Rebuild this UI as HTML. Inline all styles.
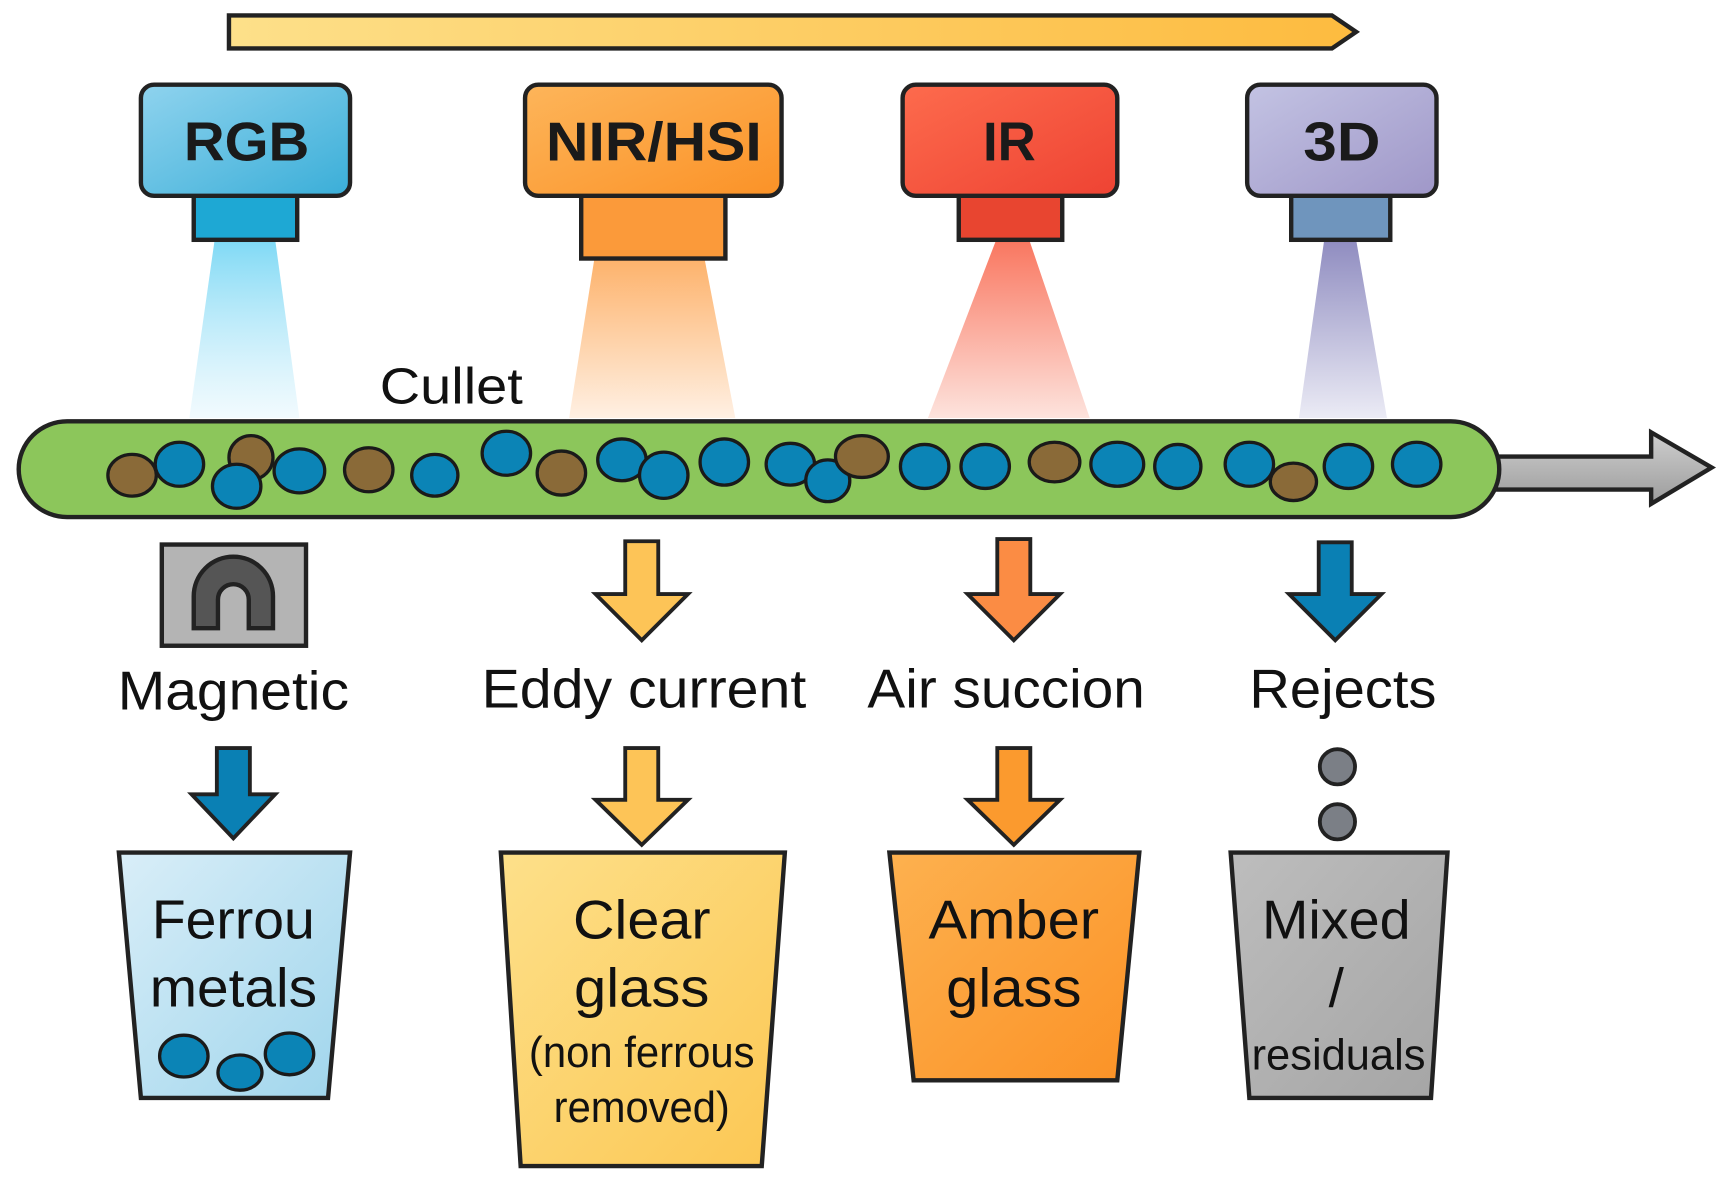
<!DOCTYPE html>
<html><head><meta charset="utf-8"><style>html,body{margin:0;padding:0;background:#fff;}svg{display:block}</style></head>
<body>
<svg width="1726" height="1187" viewBox="0 0 1568 1079" preserveAspectRatio="none" xmlns="http://www.w3.org/2000/svg" font-family="Liberation Sans, sans-serif">
<defs>
<linearGradient id="top" x1="0" x2="1"><stop offset="0" stop-color="#fde08a"/><stop offset="1" stop-color="#fdbb3f"/></linearGradient>
<linearGradient id="rgb" x1="0" x2="1" y1="0" y2="1"><stop offset="0" stop-color="#8fd3ee"/><stop offset="1" stop-color="#3aaed8"/></linearGradient>
<linearGradient id="nir" x1="0" x2="1" y1="0" y2="1"><stop offset="0" stop-color="#fdb55a"/><stop offset="1" stop-color="#fb9227"/></linearGradient>
<linearGradient id="ir" x1="0" x2="1" y1="0" y2="1"><stop offset="0" stop-color="#fd6b4d"/><stop offset="1" stop-color="#ee4333"/></linearGradient>
<linearGradient id="d3" x1="0" x2="1" y1="0" y2="1"><stop offset="0" stop-color="#c3c3e3"/><stop offset="1" stop-color="#9f97c8"/></linearGradient>
<linearGradient id="bRGB" x1="0" y1="0" x2="0" y2="1"><stop offset="0" stop-color="#7fd9f5"/><stop offset="1" stop-color="#e8f7fd" stop-opacity="0.6"/></linearGradient>
<linearGradient id="bNIR" x1="0" y1="0" x2="0" y2="1"><stop offset="0" stop-color="#fdb26b"/><stop offset="1" stop-color="#fff0e3"/></linearGradient>
<linearGradient id="bIR" x1="0" y1="0" x2="0" y2="1"><stop offset="0" stop-color="#f9765f"/><stop offset="1" stop-color="#fde3dd"/></linearGradient>
<linearGradient id="b3D" x1="0" y1="0" x2="0" y2="1"><stop offset="0" stop-color="#8f8cc0"/><stop offset="1" stop-color="#ebebf5"/></linearGradient>
<linearGradient id="ferr" x1="0" x2="1" y1="0" y2="1"><stop offset="0" stop-color="#d9eef8"/><stop offset="1" stop-color="#9fd5ec"/></linearGradient>
<linearGradient id="clr" x1="0" x2="1" y1="0" y2="1"><stop offset="0" stop-color="#fde08a"/><stop offset="1" stop-color="#fcc753"/></linearGradient>
<linearGradient id="amb" x1="0" x2="1" y1="0" y2="1"><stop offset="0" stop-color="#fdb14f"/><stop offset="1" stop-color="#fb9226"/></linearGradient>
<linearGradient id="mix" x1="0" x2="1" y1="0" y2="1"><stop offset="0" stop-color="#bdbdbd"/><stop offset="1" stop-color="#a5a5a5"/></linearGradient>
<linearGradient id="gray" x1="0" y1="0" x2="0" y2="1"><stop offset="0" stop-color="#cfcfcf"/><stop offset="1" stop-color="#9c9c9c"/></linearGradient>
</defs>

<polygon points="208,14 1210,14 1232,29 1210,44 208,44" fill="url(#top)" stroke="#222" stroke-width="4"/>

<polygon points="195,218 250,218 272,380 172,380" fill="url(#bRGB)"/>
<polygon points="540,235 640,235 668,380 517,380" fill="url(#bNIR)"/>
<polygon points="905,218 935,218 990,380 843,380" fill="url(#bIR)"/>
<polygon points="1203,218 1232,218 1260,380 1180,380" fill="url(#b3D)"/>

<g stroke="#222" stroke-width="4">
<rect x="176" y="176" width="94" height="42" fill="#1ea8d4"/>
<rect x="128" y="77" width="190" height="101" rx="12" fill="url(#rgb)"/>
<rect x="528" y="176" width="131" height="59" fill="#fb9a3a"/>
<rect x="477" y="77" width="233" height="101" rx="12" fill="url(#nir)"/>
<rect x="871" y="176" width="94" height="42" fill="#e84530"/>
<rect x="820" y="77" width="195" height="101" rx="12" fill="url(#ir)"/>
<rect x="1173" y="176" width="90" height="42" fill="#6f95bd"/>
<rect x="1133" y="77" width="172" height="101" rx="12" fill="url(#d3)"/>
</g>
<g font-weight="bold" font-size="50" fill="#1a1a1a" text-anchor="middle">
<text x="224" y="146" textLength="114" lengthAdjust="spacingAndGlyphs">RGB</text>
<text x="594" y="146" textLength="196" lengthAdjust="spacingAndGlyphs">NIR/HSI</text>
<text x="917" y="146" textLength="48" lengthAdjust="spacingAndGlyphs">IR</text>
<text x="1219" y="146" textLength="70" lengthAdjust="spacingAndGlyphs">3D</text>
</g>
<text x="410" y="367" font-size="46" text-anchor="middle" fill="#111" textLength="130" lengthAdjust="spacingAndGlyphs">Cullet</text>

<polygon points="1355,415 1500,415 1500,393 1555,425 1500,458 1500,445 1355,445" fill="url(#gray)" stroke="#222" stroke-width="4"/>
<rect x="17" y="383" width="1345" height="87" rx="44" fill="#8cc65b" stroke="#222" stroke-width="4"/>
<g stroke="#1a1a1a" stroke-width="3">
<ellipse cx="120" cy="432" rx="22" ry="19" fill="#8a6a38"/>
<ellipse cx="163" cy="422" rx="22" ry="20" fill="#0b84b6"/>
<ellipse cx="228" cy="416" rx="20" ry="20" fill="#8a6a38"/>
<ellipse cx="215" cy="442" rx="22" ry="20" fill="#0b84b6"/>
<ellipse cx="272" cy="428" rx="23" ry="20" fill="#0b84b6"/>
<ellipse cx="335" cy="427" rx="22" ry="20" fill="#8a6a38"/>
<ellipse cx="395" cy="432" rx="21" ry="19" fill="#0b84b6"/>
<ellipse cx="460" cy="412" rx="22" ry="20" fill="#0b84b6"/>
<ellipse cx="510" cy="430" rx="22" ry="20" fill="#8a6a38"/>
<ellipse cx="565" cy="418" rx="22" ry="19" fill="#0b84b6"/>
<ellipse cx="603" cy="432" rx="22" ry="21" fill="#0b84b6"/>
<ellipse cx="658" cy="420" rx="22" ry="21" fill="#0b84b6"/>
<ellipse cx="718" cy="422" rx="22" ry="19" fill="#0b84b6"/>
<ellipse cx="752" cy="437" rx="20" ry="19" fill="#0b84b6"/>
<ellipse cx="783" cy="415" rx="24" ry="19" fill="#8a6a38"/>
<ellipse cx="840" cy="424" rx="22" ry="20" fill="#0b84b6"/>
<ellipse cx="895" cy="424" rx="22" ry="20" fill="#0b84b6"/>
<ellipse cx="958" cy="420" rx="23" ry="18" fill="#8a6a38"/>
<ellipse cx="1015" cy="422" rx="24" ry="20" fill="#0b84b6"/>
<ellipse cx="1070" cy="424" rx="21" ry="20" fill="#0b84b6"/>
<ellipse cx="1135" cy="422" rx="22" ry="20" fill="#0b84b6"/>
<ellipse cx="1175" cy="438" rx="21" ry="17" fill="#8a6a38"/>
<ellipse cx="1225" cy="424" rx="22" ry="20" fill="#0b84b6"/>
<ellipse cx="1287" cy="422" rx="22" ry="20" fill="#0b84b6"/>
</g>

<rect x="147" y="495" width="131" height="92" fill="#b4b4b4" stroke="#222" stroke-width="4"/>
<path d="M176,571 L176,542 A36,36 0 0 1 248,542 L248,571 L226,571 L226,545 A14,14 0 0 0 198,545 L198,571 Z" fill="#555" stroke="#222" stroke-width="4"/>

<g stroke="#222" stroke-width="3.5">
<polygon points="568,492 598,492 598,540 625,540 583,582 541,540 568,540" fill="#fdc457"/>
<polygon points="906,490 936,490 936,540 963,540 921,582 879,540 906,540" fill="#fb8c44"/>
<polygon points="1198,493 1228,493 1228,540 1255,540 1213,582 1171,540 1198,540" fill="#0a80b4"/>
<polygon points="197,680 227,680 227,722 250,722 212,762 174,722 197,722" fill="#0a80b4"/>
<polygon points="568,680 598,680 598,727 625,727 583,768 541,727 568,727" fill="#fdc457"/>
<polygon points="906,680 936,680 936,727 963,727 921,768 879,727 906,727" fill="#fb9a2e"/>
<circle cx="1215" cy="697" r="16" fill="#7b7f86"/>
<circle cx="1215" cy="747" r="16" fill="#7b7f86"/>
</g>

<g font-size="50" fill="#111" text-anchor="middle" lengthAdjust="spacingAndGlyphs">
<text x="212" y="645" textLength="210" lengthAdjust="spacingAndGlyphs">Magnetic</text>
<text x="585" y="643" textLength="295" lengthAdjust="spacingAndGlyphs">Eddy current</text>
<text x="914" y="643" textLength="252" lengthAdjust="spacingAndGlyphs">Air succion</text>
<text x="1220" y="643" textLength="170" lengthAdjust="spacingAndGlyphs">Rejects</text>
</g>

<g stroke="#222" stroke-width="4">
<polygon points="108,775 318,775 298,998 128,998" fill="url(#ferr)"/>
<polygon points="455,775 713,775 692,1060 473,1060" fill="url(#clr)"/>
<polygon points="808,775 1035,775 1015,982 830,982" fill="url(#amb)"/>
<polygon points="1118,775 1315,775 1300,998 1135,998" fill="url(#mix)"/>
</g>
<g stroke="#1a1a1a" stroke-width="3" fill="#0b84b6">
<ellipse cx="167" cy="960" rx="22" ry="19"/>
<ellipse cx="218" cy="975" rx="20" ry="16"/>
<ellipse cx="263" cy="958" rx="22" ry="19"/>
</g>
<g font-size="50" fill="#111" text-anchor="middle">
<text x="212" y="853" textLength="148" lengthAdjust="spacingAndGlyphs">Ferrou</text>
<text x="212" y="915" textLength="152" lengthAdjust="spacingAndGlyphs">metals</text>
<text x="583" y="853" textLength="125" lengthAdjust="spacingAndGlyphs">Clear</text>
<text x="583" y="915" textLength="123" lengthAdjust="spacingAndGlyphs">glass</text>
<text x="921" y="853" textLength="155" lengthAdjust="spacingAndGlyphs">Amber</text>
<text x="921" y="915" textLength="123" lengthAdjust="spacingAndGlyphs">glass</text>
<text x="1214" y="853" textLength="135" lengthAdjust="spacingAndGlyphs">Mixed</text>
<text x="1214" y="915">/</text>
</g>
<g font-size="40" fill="#111" text-anchor="middle">
<text x="583" y="970" textLength="205" lengthAdjust="spacingAndGlyphs">(non ferrous</text>
<text x="583" y="1020" textLength="160" lengthAdjust="spacingAndGlyphs">removed)</text>
<text x="1216" y="972" textLength="158" lengthAdjust="spacingAndGlyphs">residuals</text>
</g>
</svg>
</body></html>
